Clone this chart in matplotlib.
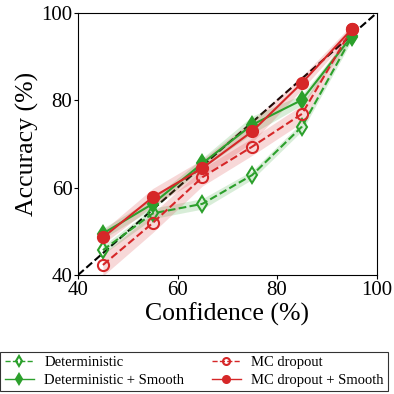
import numpy as np
import matplotlib
matplotlib.use("Agg")
import matplotlib.pyplot as plt

plt.rcParams['font.family'] = ['Liberation Serif', 'DejaVu Serif']

conf = [45, 55, 65, 75, 85, 95]

det = [45.7, 54.1, 56.3, 62.9, 74.0, 94.5]
det_std = [1.0, 1.2, 1.2, 1.0, 1.0, 0.8]
det_smooth = [49.5, 56.3, 65.6, 74.4, 80.1, 94.7]
det_smooth_std = [1.2, 1.2, 1.2, 2.0, 1.2, 0.8]
mc = [42.3, 51.9, 62.4, 69.4, 76.9, 96.3]
mc_std = [2.5, 2.2, 2.0, 2.0, 2.0, 1.0]
mc_smooth = [48.6, 57.8, 64.5, 72.9, 84.0, 96.3]
mc_smooth_std = [1.5, 2.0, 2.0, 2.5, 1.5, 1.0]

green = '#2ca02c'
red = '#d62728'

fig = plt.figure(figsize=(3.94, 3.94), dpi=100)
ax = fig.add_axes([0.198, 0.302, 0.758, 0.665])

ax.plot([40, 100], [40, 100], '--', color='black', lw=1.5, zorder=1)

series = [
    (det, det_std, green, '--', 'd', 'none', 'Deterministic'),
    (det_smooth, det_smooth_std, green, '-', 'd', green, 'Deterministic + Smooth'),
    (mc, mc_std, red, '--', 'o', 'none', 'MC dropout'),
    (mc_smooth, mc_smooth_std, red, '-', 'o', red, 'MC dropout + Smooth'),
]

handles = []
for y, s, c, ls, m, fc, lab in series:
    y = np.array(y)
    s = np.array(s)
    ax.fill_between(conf, y - s, y + s, color=c, alpha=0.18, lw=0)
    h, = ax.plot(conf, y, linestyle=ls, color=c, marker=m, markerfacecolor=fc,
                 markeredgecolor=c, markeredgewidth=1.5, markersize=8, lw=1.5,
                 label=lab)
    handles.append(h)

ax.set_xlim(40, 100)
ax.set_ylim(40, 100)
ax.set_xticks([40, 60, 80, 100])
ax.set_yticks([40, 60, 80, 100])
ax.tick_params(labelsize=15, length=3, pad=1)
ax.set_xlabel('Confidence (%)', fontsize=18.5, labelpad=2)
ax.set_ylabel('Accuracy (%)', fontsize=18.5, labelpad=2)

leg = fig.legend(handles=handles,
                 loc='upper center', bbox_to_anchor=(0.493, 0.107), ncol=2,
                 fontsize=10.5, frameon=True, fancybox=False, edgecolor='black',
                 handlelength=2.0, handletextpad=0.7, columnspacing=1.9,
                 borderpad=0.3, labelspacing=0.3, borderaxespad=0)
leg.get_frame().set_linewidth(0.8)
for lh in leg.legend_handles:
    lh.set_markersize(5)
    lh.set_linewidth(1.0)

fig.savefig('out.png', dpi=100)
